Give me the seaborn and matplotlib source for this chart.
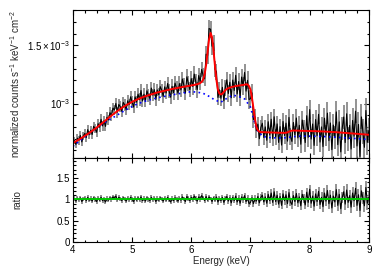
import matplotlib
matplotlib.use("Agg")
import matplotlib.pyplot as plt
import seaborn as sns
import numpy as np
from matplotlib.ticker import MultipleLocator, FuncFormatter

# energias dos bins (keV)
energia = [
    4.0, 4.025, 4.05, 4.075, 4.1, 4.125, 4.15, 4.175,
    4.2, 4.225, 4.25, 4.275, 4.3, 4.325, 4.35, 4.375,
    4.4, 4.425, 4.45, 4.475, 4.5, 4.525, 4.55, 4.575,
    4.6, 4.625, 4.65, 4.675, 4.7, 4.725, 4.75, 4.775,
    4.8, 4.825, 4.85, 4.875, 4.9, 4.925, 4.95, 4.975,
    5.0, 5.025, 5.05, 5.075, 5.1, 5.125, 5.15, 5.175,
    5.2, 5.225, 5.25, 5.275, 5.3, 5.325, 5.35, 5.375,
    5.4, 5.425, 5.45, 5.475, 5.5, 5.525, 5.55, 5.575,
    5.6, 5.625, 5.65, 5.675, 5.7, 5.725, 5.75, 5.775,
    5.8, 5.825, 5.85, 5.875, 5.9, 5.925, 5.95, 5.975,
    6.0, 6.025, 6.05, 6.075, 6.1, 6.125, 6.15, 6.175,
    6.2, 6.225, 6.25, 6.275, 6.3, 6.325, 6.35, 6.375,
    6.4, 6.425, 6.45, 6.475, 6.5, 6.525, 6.55, 6.575,
    6.6, 6.625, 6.65, 6.675, 6.7, 6.725, 6.75, 6.775,
    6.8, 6.825, 6.85, 6.875, 6.9, 6.925, 6.95, 6.975,
    7.0, 7.025, 7.05, 7.075, 7.1, 7.125, 7.15, 7.175,
    7.2, 7.225, 7.25, 7.275, 7.3, 7.325, 7.35, 7.375,
    7.4, 7.425, 7.45, 7.475, 7.5, 7.525, 7.55, 7.575,
    7.6, 7.625, 7.65, 7.675, 7.7, 7.725, 7.75, 7.775,
    7.8, 7.825, 7.85, 7.875, 7.9, 7.925, 7.95, 7.975,
    8.0, 8.025, 8.05, 8.075, 8.1, 8.125, 8.15, 8.175,
    8.2, 8.225, 8.25, 8.275, 8.3, 8.325, 8.35, 8.375,
    8.4, 8.425, 8.45, 8.475, 8.5, 8.525, 8.55, 8.575,
    8.6, 8.625, 8.65, 8.675, 8.7, 8.725, 8.75, 8.775,
    8.8, 8.825, 8.85, 8.875, 8.9, 8.925, 8.95, 8.975,
    9.0,
]

# modelo total (unidades de 1e-4 counts s^-1 keV^-1 cm^-2)
modelo = [
    6.63, 6.70, 6.77, 6.84, 6.92, 6.99, 7.07, 7.15,
    7.23, 7.31, 7.40, 7.48, 7.57, 7.66, 7.75, 7.84,
    7.94, 8.04, 8.14, 8.24, 8.34, 8.45, 8.56, 8.66,
    8.77, 8.87, 8.97, 9.07, 9.17, 9.27, 9.36, 9.45,
    9.54, 9.63, 9.71, 9.79, 9.87, 9.94, 10.01, 10.08,
    10.15, 10.21, 10.27, 10.33, 10.39, 10.44, 10.49, 10.54,
    10.59, 10.63, 10.67, 10.71, 10.75, 10.79, 10.83, 10.87,
    10.91, 10.95, 10.98, 11.01, 11.04, 11.07, 11.10, 11.13,
    11.16, 11.19, 11.22, 11.25, 11.27, 11.30, 11.32, 11.35,
    11.37, 11.40, 11.42, 11.44, 11.47, 11.49, 11.51, 11.53,
    11.56, 11.58, 11.60, 11.63, 11.66, 11.70, 11.76, 11.86,
    12.05, 12.50, 13.30, 14.40, 15.50, 16.05, 15.70, 14.60,
    13.20, 12.00, 11.20, 10.85, 10.78, 10.85, 11.00, 11.15,
    11.25, 11.32, 11.37, 11.41, 11.44, 11.47, 11.50, 11.52,
    11.54, 11.56, 11.58, 11.60, 11.62, 11.65, 11.64, 11.50,
    11.20, 10.50, 9.60, 8.70, 8.00, 7.70, 7.60, 7.57,
    7.56, 7.55, 7.55, 7.54, 7.54, 7.53, 7.53, 7.52,
    7.52, 7.51, 7.51, 7.50, 7.50, 7.50, 7.49, 7.49,
    7.50, 7.54, 7.60, 7.65, 7.68, 7.69, 7.69, 7.69,
    7.68, 7.68, 7.67, 7.67, 7.66, 7.66, 7.66, 7.65,
    7.65, 7.65, 7.64, 7.64, 7.64, 7.63, 7.63, 7.62,
    7.62, 7.61, 7.61, 7.60, 7.59, 7.59, 7.58, 7.57,
    7.56, 7.56, 7.55, 7.54, 7.53, 7.52, 7.51, 7.50,
    7.49, 7.48, 7.47, 7.46, 7.45, 7.44, 7.43, 7.42,
    7.41, 7.40, 7.39, 7.38, 7.37, 7.36, 7.35, 7.34,
    7.33,
]

# razao dados/modelo
razao = [
    0.97, 1.02, 0.96, 1.03, 0.99, 1.04, 0.95, 1.01,
    1.03, 0.97, 1.05, 0.98, 1.02, 0.96, 1.04, 1.00,
    0.95, 1.03, 0.98, 1.05, 0.97, 1.01, 0.94, 1.02,
    0.98, 1.04, 1.00, 1.06, 1.03, 1.08, 0.99, 1.05,
    1.02, 0.97, 1.04, 1.01, 0.96, 1.03, 0.99, 1.05,
    1.00, 0.95, 1.03, 0.98, 1.04, 0.99, 1.06, 0.97,
    1.02, 0.96, 1.04, 1.00, 0.97, 1.05, 0.99, 1.03,
    0.95, 1.02, 0.98, 1.04, 1.01, 0.96, 1.03, 0.98,
    1.05, 0.99, 0.94, 1.02, 0.97, 1.04, 1.00, 0.96,
    1.03, 0.98, 1.06, 1.01, 0.95, 1.07, 1.02, 0.97,
    1.05, 0.99, 1.08, 1.02, 0.96, 1.06, 1.01, 1.09,
    1.03, 0.97, 1.07, 0.98, 1.06, 1.02, 0.95, 1.04,
    0.98, 1.06, 0.94, 1.03, 0.97, 1.05, 0.93, 1.02,
    1.07, 0.96, 1.04, 0.92, 1.05, 0.97, 1.08, 0.94,
    1.03, 0.91, 1.06, 0.99, 1.09, 0.95, 1.03, 0.90,
    0.93, 1.04, 0.90, 1.02, 0.96, 1.07, 0.92, 1.05,
    1.10, 0.94, 1.06, 0.91, 1.12, 0.97, 1.15, 0.93,
    1.18, 0.95, 1.10, 0.89, 1.07, 0.86, 1.13, 0.97,
    1.11, 0.90, 1.16, 0.94, 0.88, 1.09, 0.95, 1.14,
    0.92, 1.06, 0.85, 1.12, 1.02, 0.87, 1.17, 0.93,
    1.24, 0.91, 1.08, 0.84, 1.13, 0.95, 1.19, 0.88,
    1.05, 0.83, 1.15, 0.96, 1.21, 0.90, 1.10, 0.80,
    1.08, 0.94, 1.23, 0.86, 1.12, 0.78, 1.05, 1.18,
    0.89, 1.22, 0.93, 1.09, 0.82, 1.15, 0.97, 1.26,
    0.86, 1.11, 0.74, 1.20, 1.03, 0.85, 1.28, 0.91,
    1.05,
]

# erro 1-sigma da razao
erro = [
    0.05, 0.05, 0.048, 0.05, 0.052, 0.05, 0.05, 0.049,
    0.05, 0.051, 0.05, 0.048, 0.05, 0.05, 0.052, 0.05,
    0.049, 0.05, 0.05, 0.051, 0.05, 0.048, 0.05, 0.05,
    0.05, 0.052, 0.05, 0.049, 0.05, 0.05, 0.051, 0.05,
    0.048, 0.05, 0.05, 0.052, 0.05, 0.049, 0.05, 0.05,
    0.051, 0.05, 0.048, 0.05, 0.05, 0.052, 0.05, 0.049,
    0.05, 0.05, 0.051, 0.05, 0.048, 0.05, 0.05, 0.052,
    0.05, 0.049, 0.05, 0.05, 0.051, 0.05, 0.048, 0.05,
    0.052, 0.05, 0.053, 0.055, 0.052, 0.054, 0.055, 0.053,
    0.055, 0.054, 0.056, 0.055, 0.053, 0.056, 0.055, 0.057,
    0.058, 0.06, 0.057, 0.06, 0.059, 0.058, 0.06, 0.057,
    0.055, 0.052, 0.05, 0.048, 0.046, 0.045, 0.046, 0.048,
    0.052, 0.056, 0.06, 0.062, 0.063, 0.062, 0.06, 0.061,
    0.06, 0.062, 0.061, 0.063, 0.062, 0.06, 0.063, 0.062,
    0.064, 0.065, 0.063, 0.066, 0.065, 0.064, 0.066, 0.067,
    0.068, 0.07, 0.072, 0.075, 0.078, 0.08, 0.079, 0.081,
    0.082, 0.08, 0.083, 0.085, 0.084, 0.086, 0.088, 0.087,
    0.09, 0.089, 0.091, 0.09, 0.092, 0.094, 0.093, 0.095,
    0.096, 0.097, 0.095, 0.098, 0.1, 0.099, 0.101, 0.1,
    0.102, 0.1, 0.103, 0.104, 0.105, 0.103, 0.106, 0.107,
    0.108, 0.11, 0.109, 0.111, 0.112, 0.11, 0.113, 0.115,
    0.116, 0.118, 0.117, 0.12, 0.121, 0.12, 0.122, 0.124,
    0.125, 0.127, 0.126, 0.128, 0.13, 0.129, 0.131, 0.133,
    0.134, 0.135, 0.137, 0.136, 0.138, 0.14, 0.139, 0.141,
    0.142, 0.144, 0.143, 0.145, 0.147, 0.146, 0.148, 0.15,
    0.15,
]

# continuo (linha azul pontilhada), unidades de 1e-4
energia_cont = [
    4.0, 4.1, 4.2, 4.3, 4.4, 4.5, 4.6, 4.7, 4.8, 4.9,
    5.0, 5.1, 5.2, 5.3, 5.4, 5.5, 5.6, 5.7, 5.8, 5.9,
    6.0, 6.1, 6.2, 6.3, 6.4, 6.5, 6.6, 6.7, 6.8, 6.9,
    7.0, 7.1, 7.2, 7.3, 7.4, 7.5, 7.6, 7.7, 7.8, 7.9,
    8.0, 8.1, 8.2, 8.3, 8.4, 8.5, 8.6, 8.7, 8.8, 8.9,
    9.0,
]
continuo = [
    6.34, 6.75, 7.15, 7.55, 7.93, 8.28, 8.58, 8.87, 9.18, 9.48,
    9.75, 10.00, 10.17, 10.32, 10.46, 10.57, 10.67, 10.77, 10.86, 10.94,
    11.02, 10.98, 10.88, 10.62, 10.30, 10.12, 10.45, 10.72, 10.62, 10.40,
    9.70, 7.80, 7.20, 7.10, 7.07, 7.06, 7.08, 7.15, 7.20, 7.21,
    7.21, 7.20, 7.19, 7.16, 7.13, 7.10, 7.07, 7.03, 7.00, 6.96,
    6.92,
]

sns.set_theme(style="ticks")
plt.rcParams["font.family"] = ["Liberation Sans", "DejaVu Sans"]
plt.rcParams["mathtext.fontset"] = "custom"
plt.rcParams["mathtext.rm"] = "Liberation Sans"
plt.rcParams["mathtext.it"] = "Liberation Sans:italic"

E = np.array(energia)
mod = np.array(modelo) * 1e-4
r = np.array(razao)
s = np.array(erro)
dados = r * mod
sd = s * mod
cont = np.array(continuo) * 1e-4

fig = plt.figure(figsize=(3.76, 2.68), dpi=100)
ax1 = fig.add_axes([0.194, 0.410, 0.787, 0.552])
ax2 = fig.add_axes([0.194, 0.097, 0.787, 0.313], sharex=ax1)

# painel superior: espectro
ax1.vlines(E, dados - sd, dados + sd, color="0.5", lw=1.2)
sns.lineplot(x=E, y=dados, ax=ax1, color="black", lw=0.8)
sns.lineplot(x=energia_cont, y=cont, ax=ax1, color="blue", lw=1.2,
             linestyle=(0, (1, 2)))
sns.lineplot(x=E, y=mod, ax=ax1, color="red", lw=1.4)

# painel inferior: razao
ax2.vlines(E, r - s, r + s, color="0.5", lw=1.2)
sns.lineplot(x=E, y=r, ax=ax2, color="black", lw=0.8)
ax2.axhline(1.0, color="#00c800", lw=1.4)

ax1.set_xlim(4, 9)
ax1.set_ylim(5.33e-4, 1.8e-3)
ax2.set_ylim(0, 1.97)


def fmt_y(v, pos):
    if abs(v - 1e-3) < 1e-9:
        return r"$10^{-3}$"
    if abs(v - 1.5e-3) < 1e-9:
        return r"$1.5\times10^{-3}$"
    return ""


ax1.yaxis.set_major_locator(MultipleLocator(5e-4))
ax1.yaxis.set_minor_locator(MultipleLocator(1e-4))
ax1.yaxis.set_major_formatter(FuncFormatter(fmt_y))
ax2.yaxis.set_major_locator(MultipleLocator(0.5))
ax2.yaxis.set_minor_locator(MultipleLocator(0.1))
ax2.yaxis.set_major_formatter(FuncFormatter(lambda v, p: f"{v:g}"))
ax2.xaxis.set_major_locator(MultipleLocator(1))
ax2.xaxis.set_minor_locator(MultipleLocator(0.2))

for ax in (ax1, ax2):
    ax.tick_params(which="both", direction="in", top=True, right=True,
                   width=0.8, labelsize=7, pad=2, colors="black")
    ax.tick_params(which="major", length=3.5)
    ax.tick_params(which="minor", length=1.8)
    for sp in ax.spines.values():
        sp.set_linewidth(0.8)
        sp.set_color("black")
ax1.tick_params(labelbottom=False)

ax1.set_xlabel("")
ax1.set_ylabel(r"normalized counts s$^{-1}$ keV$^{-1}$ cm$^{-2}$", fontsize=7)
ax2.set_ylabel("ratio", fontsize=7)
ax2.set_xlabel("Energy (keV)", fontsize=7)
ax1.yaxis.set_label_coords(-0.172, 0.5)
ax2.yaxis.set_label_coords(-0.172, 0.5)
ax2.xaxis.set_label_coords(0.5, -0.17)

fig.savefig("out.png", dpi=100)
plt.close(fig)
